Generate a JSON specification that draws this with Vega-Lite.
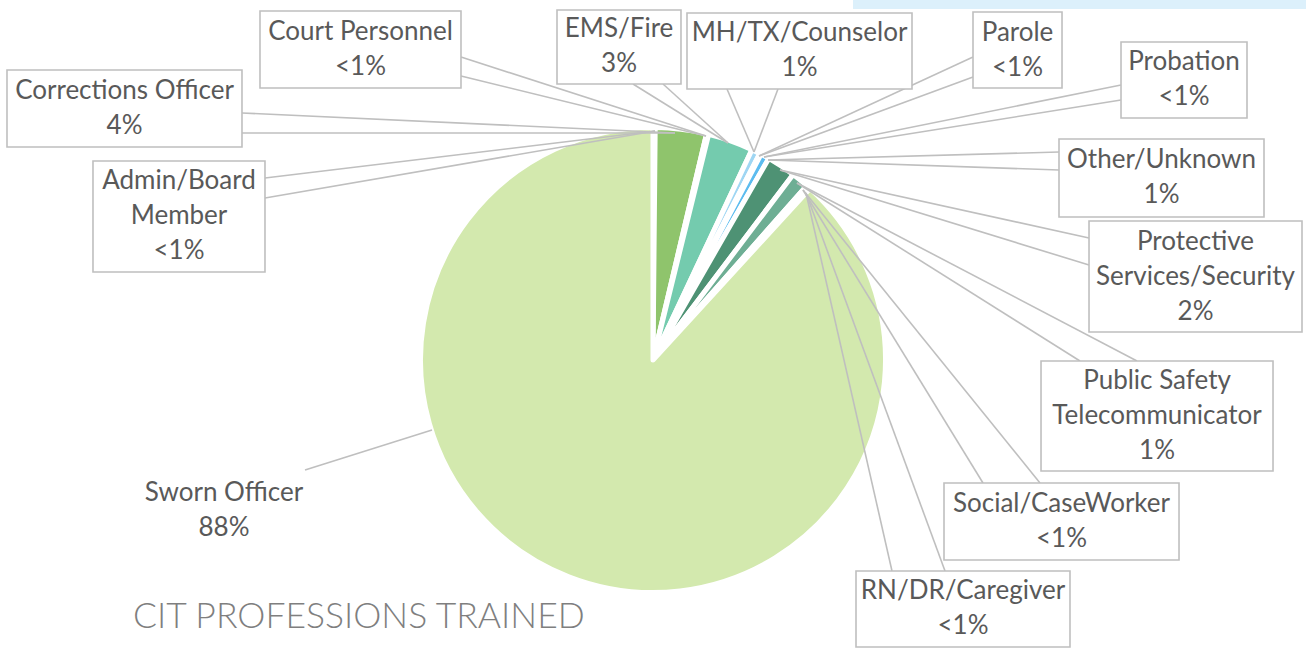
{
  "$schema": "https://vega.github.io/schema/vega-lite/v6.json",
  "width": 1306,
  "height": 656,
  "padding": 0,
  "autosize": {"type": "none"},
  "background": "white",
  "config": {"view": {"stroke": null}},
  "datasets": {
    "slices": [
      {"ord": 1, "profession": "Admin/Board Member", "pct": 0.15},
      {"ord": 2, "profession": "Corrections Officer", "pct": 3.55},
      {"ord": 3, "profession": "Court Personnel", "pct": 0.15},
      {"ord": 4, "profession": "EMS/Fire", "pct": 3.15},
      {"ord": 5, "profession": "MH/TX/Counselor", "pct": 0.6},
      {"ord": 6, "profession": "Parole", "pct": 0.05},
      {"ord": 7, "profession": "Probation", "pct": 0.05},
      {"ord": 8, "profession": "Other/Unknown", "pct": 0.6},
      {"ord": 9, "profession": "Protective Services/Security", "pct": 2.0},
      {"ord": 10, "profession": "Public Safety Telecommunicator", "pct": 1.2},
      {"ord": 11, "profession": "Social/CaseWorker", "pct": 0.15},
      {"ord": 12, "profession": "RN/DR/Caregiver", "pct": 0.15},
      {"ord": 13, "profession": "Sworn Officer", "pct": 88.2}
    ],
    "callouts": [
      {"who": "Court Personnel", "label": "Court Personnel\n<1%", "x1": -1.7087, "x2": -0.8348, "y1": 1.5174, "y2": 1.1826, "lx": -1.2717, "ly": 1.4261},
      {"who": "EMS/Fire", "label": "EMS/Fire\n3%", "x1": -0.4174, "x2": 0.1217, "y1": 1.5217, "y2": 1.2, "lx": -0.1478, "ly": 1.437},
      {"who": "MH/TX/Counselor", "label": "MH/TX/Counselor\n1%", "x1": 0.1478, "x2": 1.1261, "y1": 1.5087, "y2": 1.1783, "lx": 0.637, "ly": 1.4196},
      {"who": "Parole", "label": "Parole\n<1%", "x1": 1.3913, "x2": 1.7783, "y1": 1.513, "y2": 1.1826, "lx": 1.5848, "ly": 1.4239},
      {"who": "Probation", "label": "Probation\n<1%", "x1": 2.0348, "x2": 2.5826, "y1": 1.3826, "y2": 1.0522, "lx": 2.3087, "ly": 1.2935},
      {"who": "Other/Unknown", "label": "Other/Unknown\n1%", "x1": 1.7652, "x2": 2.6565, "y1": 0.9609, "y2": 0.6217, "lx": 2.2109, "ly": 0.8674},
      {"who": "Protective Services/Security", "label": "Protective\nServices/Security\n2%", "x1": 1.8957, "x2": 2.8217, "y1": 0.6043, "y2": 0.1217, "lx": 2.3587, "ly": 0.5152},
      {"who": "Public Safety Telecommunicator", "label": "Public Safety\nTelecommunicator\n1%", "x1": 1.687, "x2": 2.6957, "y1": -0.0043, "y2": -0.4826, "lx": 2.1913, "ly": -0.0913},
      {"who": "Social/CaseWorker", "label": "Social/CaseWorker\n<1%", "x1": 1.2652, "x2": 2.287, "y1": -0.5348, "y2": -0.8696, "lx": 1.7761, "ly": -0.6261},
      {"who": "RN/DR/Caregiver", "label": "RN/DR/Caregiver\n<1%", "x1": 0.8826, "x2": 1.813, "y1": -0.9174, "y2": -1.2478, "lx": 1.3478, "ly": -1.0065},
      {"who": "Corrections Officer", "label": "Corrections Officer\n4%", "x1": -2.8087, "x2": -1.787, "y1": 1.2609, "y2": 0.9261, "lx": -2.2978, "ly": 1.1696},
      {"who": "Admin/Board Member", "label": "Admin/Board\nMember\n<1%", "x1": -2.4348, "x2": -1.687, "y1": 0.8652, "y2": 0.3826, "lx": -2.0609, "ly": 0.7761},
      {"who": "Sworn Officer", "label": "Sworn Officer\n88%", "lx": -1.8652, "ly": -0.5761}
    ],
    "leaders": [
      {"who": "Court Personnel", "tx": 0.2304, "ty": 0.9739, "bx": -0.8348, "by": 1.3174},
      {"who": "Court Personnel", "tx": 0.2304, "ty": 0.9739, "bx": -0.8348, "by": 1.2348},
      {"who": "Corrections Officer", "tx": 0.0957, "ty": 0.987, "bx": -1.787, "by": 1.0739},
      {"who": "Corrections Officer", "tx": 0.0957, "ty": 0.987, "bx": -1.787, "by": 0.987},
      {"who": "Admin/Board Member", "tx": 0.0087, "ty": 0.9957, "bx": -1.687, "by": 0.7913},
      {"who": "Admin/Board Member", "tx": 0.0087, "ty": 0.9957, "bx": -1.687, "by": 0.7043},
      {"who": "EMS/Fire", "tx": 0.3261, "ty": 0.9435, "bx": -0.087, "by": 1.2},
      {"who": "EMS/Fire", "tx": 0.3261, "ty": 0.9435, "bx": 0.0435, "by": 1.2},
      {"who": "MH/TX/Counselor", "tx": 0.4391, "ty": 0.9043, "bx": 0.3217, "by": 1.1783},
      {"who": "MH/TX/Counselor", "tx": 0.4391, "ty": 0.9043, "bx": 0.5435, "by": 1.1783},
      {"who": "Parole", "tx": 0.4609, "ty": 0.887, "bx": 1.3913, "by": 1.3174},
      {"who": "Parole", "tx": 0.4609, "ty": 0.887, "bx": 1.3913, "by": 1.2304},
      {"who": "Probation", "tx": 0.4826, "ty": 0.8826, "bx": 2.0348, "by": 1.1957},
      {"who": "Probation", "tx": 0.4826, "ty": 0.8826, "bx": 2.0348, "by": 1.1304},
      {"who": "Other/Unknown", "tx": 0.5, "ty": 0.8696, "bx": 1.7652, "by": 0.9043},
      {"who": "Other/Unknown", "tx": 0.5, "ty": 0.8696, "bx": 1.7652, "by": 0.8261},
      {"who": "Protective Services/Security", "tx": 0.5522, "ty": 0.8261, "bx": 1.8957, "by": 0.5304},
      {"who": "Protective Services/Security", "tx": 0.5522, "ty": 0.8261, "bx": 1.8957, "by": 0.413},
      {"who": "Public Safety Telecommunicator", "tx": 0.6261, "ty": 0.7696, "bx": 1.8565, "by": -0.0043},
      {"who": "Public Safety Telecommunicator", "tx": 0.6261, "ty": 0.7696, "bx": 2.1043, "by": -0.0043},
      {"who": "Social/CaseWorker", "tx": 0.6522, "ty": 0.7391, "bx": 1.4348, "by": -0.5348},
      {"who": "Social/CaseWorker", "tx": 0.6522, "ty": 0.7391, "bx": 1.6826, "by": -0.5348},
      {"who": "RN/DR/Caregiver", "tx": 0.6652, "ty": 0.7261, "bx": 1.0391, "by": -0.9174},
      {"who": "RN/DR/Caregiver", "tx": 0.6652, "ty": 0.7261, "bx": 1.2696, "by": -0.9174},
      {"who": "Sworn Officer", "tx": -0.9609, "ty": -0.3043, "bx": -1.513, "by": -0.4783}
    ]
  },
  "layer": [
    {
      "data": {"values": [{"band": "top"}]},
      "mark": {"type": "rect", "color": "#dcf0fb"},
      "encoding": {
        "x": {"datum": 0.8696, "type": "quantitative", "stack": null, "scale": {"domain": [-2.8391, 2.8391], "nice": false, "zero": false}, "axis": null},
        "x2": {"datum": 2.8391},
        "y": {"datum": 1.5652, "type": "quantitative", "stack": null, "scale": {"domain": [-1.28696, 1.56522], "nice": false, "zero": false}, "axis": null},
        "y2": {"datum": 1.5261}
      }
    },
    {
      "data": {"name": "slices"},
      "transform": [
        {"stack": "pct", "groupby": [], "sort": [{"field": "ord", "order": "ascending"}], "as": ["t0", "t1"]}
      ],
      "mark": {"type": "arc", "radius": 232.5, "stroke": "white", "strokeWidth": 5, "strokeJoin": "round"},
      "encoding": {
        "theta": {"field": "t0", "type": "quantitative", "scale": {"domain": [0, 100]}},
        "theta2": {"field": "t1"},
        "color": {
          "field": "profession",
          "type": "nominal",
          "legend": null,
          "scale": {
            "domain": ["Admin/Board Member", "Corrections Officer", "Court Personnel", "EMS/Fire", "MH/TX/Counselor", "Parole", "Probation", "Other/Unknown", "Protective Services/Security", "Public Safety Telecommunicator", "Social/CaseWorker", "RN/DR/Caregiver", "Sworn Officer"],
            "range": ["#b9dfa0", "#8fc46c", "#a8d88e", "#74cbae", "#9fd6f3", "#9fd6f3", "#8dcff2", "#5cbcef", "#4e9274", "#6eae94", "#9fcfb9", "#b6dcc6", "#d3e9ae"]
          }
        },
        "x": {"datum": 0, "type": "quantitative", "stack": null},
        "y": {"datum": 0, "type": "quantitative", "stack": null}
      }
    },
    {
      "data": {"name": "leaders"},
      "mark": {"type": "rule", "color": "#bfbfbf", "strokeWidth": 1.6},
      "encoding": {
        "x": {"field": "tx", "type": "quantitative"},
        "y": {"field": "ty", "type": "quantitative"},
        "x2": {"field": "bx"},
        "y2": {"field": "by"}
      }
    },
    {
      "data": {"name": "callouts"},
      "transform": [{"filter": "isValid(datum.x1)"}],
      "mark": {"type": "rect", "fill": "white", "stroke": "#bfbfbf", "strokeWidth": 1.6},
      "encoding": {
        "x": {"field": "x1", "type": "quantitative"},
        "x2": {"field": "x2"},
        "y": {"field": "y1", "type": "quantitative"},
        "y2": {"field": "y2"}
      }
    },
    {
      "data": {"name": "callouts"},
      "mark": {"type": "text", "font": "Lato", "fontSize": 26, "lineHeight": 35, "color": "#595959", "align": "center", "baseline": "middle", "lineBreak": "\n"},
      "encoding": {
        "x": {"field": "lx", "type": "quantitative"},
        "y": {"field": "ly", "type": "quantitative"},
        "text": {"field": "label"}
      }
    },
    {
      "data": {"values": [{"title": "CIT PROFESSIONS TRAINED"}]},
      "mark": {"type": "text", "font": "Lato", "fontWeight": 300, "fontSize": 35.5, "color": "#7f7f7f", "align": "left", "baseline": "alphabetic"},
      "encoding": {
        "x": {"datum": -2.2609, "type": "quantitative", "stack": null},
        "y": {"datum": -1.1652, "type": "quantitative", "stack": null},
        "text": {"field": "title"}
      }
    }
  ]
}
